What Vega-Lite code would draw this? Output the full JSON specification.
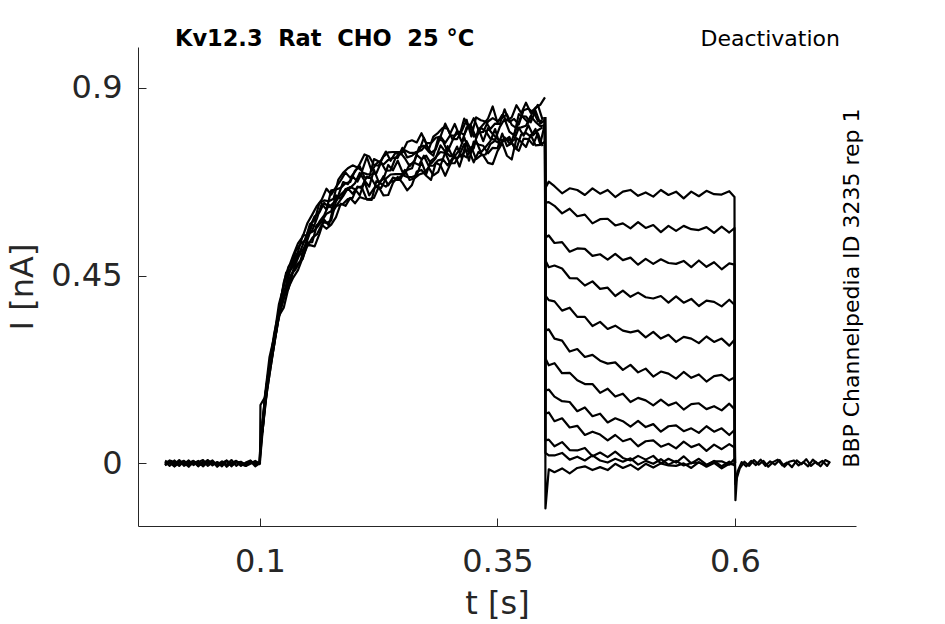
{
  "$schema": "https://vega.github.io/schema/vega-lite/v6.json",
  "width": 718,
  "height": 479,
  "autosize": {"type": "none"},
  "padding": {"left": 138, "top": 47, "right": 89, "bottom": 98},
  "background": "white",
  "config": {
    "view": {"stroke": null},
    "font": "DejaVu Sans",
    "axis": {
      "labelFont": "DejaVu Sans",
      "titleFont": "DejaVu Sans",
      "labelColor": "#262626",
      "titleColor": "#262626",
      "domainColor": "#262626",
      "tickColor": "#262626",
      "domainWidth": 1,
      "tickWidth": 1,
      "grid": false,
      "labelFontSize": 32,
      "titleFontSize": 32,
      "titleFontWeight": "normal",
      "format": ".2~f"
    }
  },
  "layer": [
    {
      "data": {
        "values": [
          {"s":"a1","t":0,"i":0.004},{"s":"a1","t":0.005,"i":-0.006},{"s":"a1","t":0.01,"i":0.007},{"s":"a1","t":0.015,"i":-0.003},{"s":"a1","t":0.02,"i":0.002},
          {"s":"a1","t":0.025,"i":-0.008},{"s":"a1","t":0.03,"i":0.005},{"s":"a1","t":0.035,"i":0.0},{"s":"a1","t":0.04,"i":-0.005},{"s":"a1","t":0.045,"i":0.008},
          {"s":"a1","t":0.05,"i":-0.002},{"s":"a1","t":0.055,"i":0.003},{"s":"a1","t":0.06,"i":-0.007},{"s":"a1","t":0.065,"i":0.006},{"s":"a1","t":0.07,"i":-0.001},
          {"s":"a1","t":0.075,"i":0.004},{"s":"a1","t":0.08,"i":-0.006},{"s":"a1","t":0.085,"i":0.002},{"s":"a1","t":0.09,"i":0.007},{"s":"a1","t":0.095,"i":-0.004},
          {"s":"a1","t":0.0995,"i":0.001},
          {"s":"a1","t":0.1,"i":0.006},{"s":"a1","t":0.105,"i":0.135},{"s":"a1","t":0.11,"i":0.212},{"s":"a1","t":0.115,"i":0.285},{"s":"a1","t":0.12,"i":0.354},
          {"s":"a1","t":0.125,"i":0.373},{"s":"a1","t":0.13,"i":0.421},{"s":"a1","t":0.135,"i":0.445},{"s":"a1","t":0.14,"i":0.463},{"s":"a1","t":0.145,"i":0.493},
          {"s":"a1","t":0.15,"i":0.522},{"s":"a1","t":0.155,"i":0.54},{"s":"a1","t":0.16,"i":0.549},{"s":"a1","t":0.165,"i":0.572},{"s":"a1","t":0.17,"i":0.562},
          {"s":"a1","t":0.175,"i":0.572},{"s":"a1","t":0.18,"i":0.59},{"s":"a1","t":0.185,"i":0.622},{"s":"a1","t":0.19,"i":0.617},{"s":"a1","t":0.195,"i":0.636},
          {"s":"a1","t":0.2,"i":0.623},{"s":"a1","t":0.205,"i":0.638},{"s":"a1","t":0.21,"i":0.634},{"s":"a1","t":0.215,"i":0.633},{"s":"a1","t":0.22,"i":0.636},
          {"s":"a1","t":0.225,"i":0.662},{"s":"a1","t":0.23,"i":0.642},{"s":"a1","t":0.235,"i":0.643},{"s":"a1","t":0.24,"i":0.672},{"s":"a1","t":0.245,"i":0.686},
          {"s":"a1","t":0.25,"i":0.672},{"s":"a1","t":0.255,"i":0.654},{"s":"a1","t":0.26,"i":0.667},{"s":"a1","t":0.265,"i":0.699},{"s":"a1","t":0.27,"i":0.703},
          {"s":"a1","t":0.275,"i":0.689},{"s":"a1","t":0.28,"i":0.679},{"s":"a1","t":0.285,"i":0.72},{"s":"a1","t":0.29,"i":0.714},{"s":"a1","t":0.295,"i":0.689},
          {"s":"a1","t":0.3,"i":0.715},{"s":"a1","t":0.305,"i":0.739},{"s":"a1","t":0.31,"i":0.711},{"s":"a1","t":0.315,"i":0.747},{"s":"a1","t":0.32,"i":0.75},
          {"s":"a1","t":0.325,"i":0.721},{"s":"a1","t":0.33,"i":0.746},{"s":"a1","t":0.335,"i":0.738},{"s":"a1","t":0.34,"i":0.72},{"s":"a1","t":0.345,"i":0.717},
          {"s":"a1","t":0.35,"i":0.748},{"s":"a1","t":0.355,"i":0.767},{"s":"a1","t":0.36,"i":0.737},{"s":"a1","t":0.365,"i":0.728},{"s":"a1","t":0.37,"i":0.779},
          {"s":"a1","t":0.375,"i":0.77},{"s":"a1","t":0.38,"i":0.758},{"s":"a1","t":0.385,"i":0.787},{"s":"a1","t":0.39,"i":0.762},{"s":"a1","t":0.395,"i":0.763},
          {"s":"a1","t":0.4,"i":0.771},

          {"s":"a2","t":0,"i":-0.005},{"s":"a2","t":0.005,"i":0.003},{"s":"a2","t":0.01,"i":-0.002},{"s":"a2","t":0.015,"i":0.008},{"s":"a2","t":0.02,"i":-0.006},
          {"s":"a2","t":0.025,"i":0.001},{"s":"a2","t":0.03,"i":0.006},{"s":"a2","t":0.035,"i":-0.007},{"s":"a2","t":0.04,"i":0.004},{"s":"a2","t":0.045,"i":-0.001},
          {"s":"a2","t":0.05,"i":0.007},{"s":"a2","t":0.055,"i":-0.005},{"s":"a2","t":0.06,"i":0.002},{"s":"a2","t":0.065,"i":-0.003},{"s":"a2","t":0.07,"i":0.008},
          {"s":"a2","t":0.075,"i":-0.006},{"s":"a2","t":0.08,"i":0.003},{"s":"a2","t":0.085,"i":-0.002},{"s":"a2","t":0.09,"i":0.005},{"s":"a2","t":0.095,"i":-0.007},
          {"s":"a2","t":0.0995,"i":0.0},
          {"s":"a2","t":0.1,"i":0.014},{"s":"a2","t":0.105,"i":0.14},{"s":"a2","t":0.11,"i":0.223},{"s":"a2","t":0.115,"i":0.284},{"s":"a2","t":0.12,"i":0.359},
          {"s":"a2","t":0.125,"i":0.405},{"s":"a2","t":0.13,"i":0.418},{"s":"a2","t":0.135,"i":0.461},{"s":"a2","t":0.14,"i":0.479},{"s":"a2","t":0.145,"i":0.49},
          {"s":"a2","t":0.15,"i":0.529},{"s":"a2","t":0.155,"i":0.53},{"s":"a2","t":0.16,"i":0.571},{"s":"a2","t":0.165,"i":0.578},{"s":"a2","t":0.17,"i":0.576},
          {"s":"a2","t":0.175,"i":0.582},{"s":"a2","t":0.18,"i":0.628},{"s":"a2","t":0.185,"i":0.644},{"s":"a2","t":0.19,"i":0.655},{"s":"a2","t":0.195,"i":0.662},
          {"s":"a2","t":0.2,"i":0.657},{"s":"a2","t":0.205,"i":0.642},{"s":"a2","t":0.21,"i":0.675},{"s":"a2","t":0.215,"i":0.642},{"s":"a2","t":0.22,"i":0.659},
          {"s":"a2","t":0.225,"i":0.667},{"s":"a2","t":0.23,"i":0.688},{"s":"a2","t":0.235,"i":0.666},{"s":"a2","t":0.24,"i":0.685},{"s":"a2","t":0.245,"i":0.681},
          {"s":"a2","t":0.25,"i":0.691},{"s":"a2","t":0.255,"i":0.686},{"s":"a2","t":0.26,"i":0.686},{"s":"a2","t":0.265,"i":0.69},{"s":"a2","t":0.27,"i":0.722},
          {"s":"a2","t":0.275,"i":0.693},{"s":"a2","t":0.28,"i":0.725},{"s":"a2","t":0.285,"i":0.734},{"s":"a2","t":0.29,"i":0.746},{"s":"a2","t":0.295,"i":0.744},
          {"s":"a2","t":0.3,"i":0.719},{"s":"a2","t":0.305,"i":0.719},{"s":"a2","t":0.31,"i":0.739},{"s":"a2","t":0.315,"i":0.765},{"s":"a2","t":0.32,"i":0.725},
          {"s":"a2","t":0.325,"i":0.771},{"s":"a2","t":0.33,"i":0.764},{"s":"a2","t":0.335,"i":0.761},{"s":"a2","t":0.34,"i":0.743},{"s":"a2","t":0.345,"i":0.756},
          {"s":"a2","t":0.35,"i":0.755},{"s":"a2","t":0.355,"i":0.79},{"s":"a2","t":0.36,"i":0.76},{"s":"a2","t":0.365,"i":0.767},{"s":"a2","t":0.37,"i":0.754},
          {"s":"a2","t":0.375,"i":0.788},{"s":"a2","t":0.38,"i":0.792},{"s":"a2","t":0.385,"i":0.783},{"s":"a2","t":0.39,"i":0.801},{"s":"a2","t":0.395,"i":0.765},
          {"s":"a2","t":0.4,"i":0.815},

          {"s":"a3","t":0,"i":0.006},{"s":"a3","t":0.005,"i":0.001},{"s":"a3","t":0.01,"i":-0.007},{"s":"a3","t":0.015,"i":0.004},{"s":"a3","t":0.02,"i":-0.002},
          {"s":"a3","t":0.025,"i":0.007},{"s":"a3","t":0.03,"i":-0.004},{"s":"a3","t":0.035,"i":0.003},{"s":"a3","t":0.04,"i":0.008},{"s":"a3","t":0.045,"i":-0.006},
          {"s":"a3","t":0.05,"i":0.002},{"s":"a3","t":0.055,"i":-0.003},{"s":"a3","t":0.06,"i":0.005},{"s":"a3","t":0.065,"i":-0.008},{"s":"a3","t":0.07,"i":0.001},
          {"s":"a3","t":0.075,"i":0.006},{"s":"a3","t":0.08,"i":-0.002},{"s":"a3","t":0.085,"i":-0.006},{"s":"a3","t":0.09,"i":0.004},{"s":"a3","t":0.095,"i":0.002},
          {"s":"a3","t":0.0995,"i":-0.002},
          {"s":"a3","t":0.1,"i":0.02},{"s":"a3","t":0.105,"i":0.156},{"s":"a3","t":0.11,"i":0.231},{"s":"a3","t":0.115,"i":0.297},{"s":"a3","t":0.12,"i":0.363},
          {"s":"a3","t":0.125,"i":0.394},{"s":"a3","t":0.13,"i":0.457},{"s":"a3","t":0.135,"i":0.472},{"s":"a3","t":0.14,"i":0.497},{"s":"a3","t":0.145,"i":0.504},
          {"s":"a3","t":0.15,"i":0.54},{"s":"a3","t":0.155,"i":0.572},{"s":"a3","t":0.16,"i":0.565},{"s":"a3","t":0.165,"i":0.58},{"s":"a3","t":0.17,"i":0.598},
          {"s":"a3","t":0.175,"i":0.604},{"s":"a3","t":0.18,"i":0.642},{"s":"a3","t":0.185,"i":0.634},{"s":"a3","t":0.19,"i":0.657},{"s":"a3","t":0.195,"i":0.66},
          {"s":"a3","t":0.2,"i":0.671},{"s":"a3","t":0.205,"i":0.696},{"s":"a3","t":0.21,"i":0.678},{"s":"a3","t":0.215,"i":0.663},{"s":"a3","t":0.22,"i":0.703},
          {"s":"a3","t":0.225,"i":0.674},{"s":"a3","t":0.23,"i":0.681},{"s":"a3","t":0.235,"i":0.715},{"s":"a3","t":0.24,"i":0.702},{"s":"a3","t":0.245,"i":0.725},
          {"s":"a3","t":0.25,"i":0.698},{"s":"a3","t":0.255,"i":0.703},{"s":"a3","t":0.26,"i":0.707},{"s":"a3","t":0.265,"i":0.739},{"s":"a3","t":0.27,"i":0.729},
          {"s":"a3","t":0.275,"i":0.737},{"s":"a3","t":0.28,"i":0.718},{"s":"a3","t":0.285,"i":0.731},{"s":"a3","t":0.29,"i":0.762},{"s":"a3","t":0.295,"i":0.747},
          {"s":"a3","t":0.3,"i":0.736},{"s":"a3","t":0.305,"i":0.736},{"s":"a3","t":0.31,"i":0.751},{"s":"a3","t":0.315,"i":0.781},{"s":"a3","t":0.32,"i":0.747},
          {"s":"a3","t":0.325,"i":0.755},{"s":"a3","t":0.33,"i":0.802},{"s":"a3","t":0.335,"i":0.772},{"s":"a3","t":0.34,"i":0.803},{"s":"a3","t":0.345,"i":0.789},
          {"s":"a3","t":0.35,"i":0.777},{"s":"a3","t":0.355,"i":0.774},{"s":"a3","t":0.36,"i":0.776},{"s":"a3","t":0.365,"i":0.773},{"s":"a3","t":0.37,"i":0.803},
          {"s":"a3","t":0.375,"i":0.805},{"s":"a3","t":0.38,"i":0.809},{"s":"a3","t":0.385,"i":0.832},{"s":"a3","t":0.39,"i":0.818},{"s":"a3","t":0.395,"i":0.808},
          {"s":"a3","t":0.4,"i":0.81},

          {"s":"a4","t":0,"i":-0.002},{"s":"a4","t":0.005,"i":0.007},{"s":"a4","t":0.01,"i":0.003},{"s":"a4","t":0.015,"i":-0.006},{"s":"a4","t":0.02,"i":0.005},
          {"s":"a4","t":0.025,"i":-0.004},{"s":"a4","t":0.03,"i":-0.001},{"s":"a4","t":0.035,"i":0.006},{"s":"a4","t":0.04,"i":-0.007},{"s":"a4","t":0.045,"i":0.003},
          {"s":"a4","t":0.05,"i":0.005},{"s":"a4","t":0.055,"i":-0.008},{"s":"a4","t":0.06,"i":0.001},{"s":"a4","t":0.065,"i":0.007},{"s":"a4","t":0.07,"i":-0.005},
          {"s":"a4","t":0.075,"i":0.002},{"s":"a4","t":0.08,"i":0.004},{"s":"a4","t":0.085,"i":-0.006},{"s":"a4","t":0.09,"i":-0.001},{"s":"a4","t":0.095,"i":0.006},
          {"s":"a4","t":0.0995,"i":0.0},
          {"s":"a4","t":0.1,"i":0.026},{"s":"a4","t":0.105,"i":0.152},{"s":"a4","t":0.11,"i":0.234},{"s":"a4","t":0.115,"i":0.312},{"s":"a4","t":0.12,"i":0.365},
          {"s":"a4","t":0.125,"i":0.433},{"s":"a4","t":0.13,"i":0.471},{"s":"a4","t":0.135,"i":0.486},{"s":"a4","t":0.14,"i":0.507},{"s":"a4","t":0.145,"i":0.546},
          {"s":"a4","t":0.15,"i":0.547},{"s":"a4","t":0.155,"i":0.558},{"s":"a4","t":0.16,"i":0.587},{"s":"a4","t":0.165,"i":0.622},{"s":"a4","t":0.17,"i":0.608},
          {"s":"a4","t":0.175,"i":0.654},{"s":"a4","t":0.18,"i":0.656},{"s":"a4","t":0.185,"i":0.66},{"s":"a4","t":0.19,"i":0.671},{"s":"a4","t":0.195,"i":0.674},
          {"s":"a4","t":0.2,"i":0.701},{"s":"a4","t":0.205,"i":0.712},{"s":"a4","t":0.21,"i":0.685},{"s":"a4","t":0.215,"i":0.684},{"s":"a4","t":0.22,"i":0.729},
          {"s":"a4","t":0.225,"i":0.723},{"s":"a4","t":0.23,"i":0.716},{"s":"a4","t":0.235,"i":0.727},{"s":"a4","t":0.24,"i":0.732},{"s":"a4","t":0.245,"i":0.732},
          {"s":"a4","t":0.25,"i":0.756},{"s":"a4","t":0.255,"i":0.733},{"s":"a4","t":0.26,"i":0.737},{"s":"a4","t":0.265,"i":0.746},{"s":"a4","t":0.27,"i":0.75},
          {"s":"a4","t":0.275,"i":0.763},{"s":"a4","t":0.28,"i":0.744},{"s":"a4","t":0.285,"i":0.752},{"s":"a4","t":0.29,"i":0.783},{"s":"a4","t":0.295,"i":0.768},
          {"s":"a4","t":0.3,"i":0.785},{"s":"a4","t":0.305,"i":0.785},{"s":"a4","t":0.31,"i":0.794},{"s":"a4","t":0.315,"i":0.787},{"s":"a4","t":0.32,"i":0.812},
          {"s":"a4","t":0.325,"i":0.783},{"s":"a4","t":0.33,"i":0.792},{"s":"a4","t":0.335,"i":0.794},{"s":"a4","t":0.34,"i":0.819},{"s":"a4","t":0.345,"i":0.827},
          {"s":"a4","t":0.35,"i":0.82},{"s":"a4","t":0.355,"i":0.828},{"s":"a4","t":0.36,"i":0.836},{"s":"a4","t":0.365,"i":0.811},{"s":"a4","t":0.37,"i":0.803},
          {"s":"a4","t":0.375,"i":0.832},{"s":"a4","t":0.38,"i":0.831},{"s":"a4","t":0.385,"i":0.817},{"s":"a4","t":0.39,"i":0.845},{"s":"a4","t":0.395,"i":0.814},
          {"s":"a4","t":0.4,"i":0.822},

          {"s":"a5","t":0,"i":-0.004},{"s":"a5","t":0.005,"i":0.005},{"s":"a5","t":0.01,"i":-0.007},{"s":"a5","t":0.015,"i":0.002},{"s":"a5","t":0.02,"i":0.006},
          {"s":"a5","t":0.025,"i":-0.003},{"s":"a5","t":0.03,"i":0.004},{"s":"a5","t":0.035,"i":-0.006},{"s":"a5","t":0.04,"i":0.001},{"s":"a5","t":0.045,"i":0.007},
          {"s":"a5","t":0.05,"i":-0.005},{"s":"a5","t":0.055,"i":0.003},{"s":"a5","t":0.06,"i":-0.002},{"s":"a5","t":0.065,"i":0.006},{"s":"a5","t":0.07,"i":-0.007},
          {"s":"a5","t":0.075,"i":0.004},{"s":"a5","t":0.08,"i":0.0},{"s":"a5","t":0.085,"i":-0.004},{"s":"a5","t":0.09,"i":0.005},{"s":"a5","t":0.095,"i":-0.002},
          {"s":"a5","t":0.0995,"i":0.0},
          {"s":"a5","t":0.1,"i":0.0},{"s":"a5","t":0.1005,"i":0.14},{"s":"a5","t":0.105,"i":0.158},{"s":"a5","t":0.11,"i":0.254},{"s":"a5","t":0.115,"i":0.304},
          {"s":"a5","t":0.12,"i":0.382},{"s":"a5","t":0.125,"i":0.424},{"s":"a5","t":0.13,"i":0.468},{"s":"a5","t":0.135,"i":0.499},{"s":"a5","t":0.14,"i":0.527},
          {"s":"a5","t":0.145,"i":0.543},{"s":"a5","t":0.15,"i":0.576},{"s":"a5","t":0.155,"i":0.596},{"s":"a5","t":0.16,"i":0.617},{"s":"a5","t":0.165,"i":0.632},
          {"s":"a5","t":0.17,"i":0.658},{"s":"a5","t":0.175,"i":0.644},{"s":"a5","t":0.18,"i":0.662},{"s":"a5","t":0.185,"i":0.678},{"s":"a5","t":0.19,"i":0.697},
          {"s":"a5","t":0.195,"i":0.684},{"s":"a5","t":0.2,"i":0.699},{"s":"a5","t":0.205,"i":0.717},{"s":"a5","t":0.21,"i":0.74},{"s":"a5","t":0.215,"i":0.735},
          {"s":"a5","t":0.22,"i":0.715},{"s":"a5","t":0.225,"i":0.713},{"s":"a5","t":0.23,"i":0.735},{"s":"a5","t":0.235,"i":0.745},{"s":"a5","t":0.24,"i":0.746},
          {"s":"a5","t":0.245,"i":0.746},{"s":"a5","t":0.25,"i":0.746},{"s":"a5","t":0.255,"i":0.77},{"s":"a5","t":0.26,"i":0.774},{"s":"a5","t":0.265,"i":0.769},
          {"s":"a5","t":0.27,"i":0.791},{"s":"a5","t":0.275,"i":0.767},{"s":"a5","t":0.28,"i":0.767},{"s":"a5","t":0.285,"i":0.78},{"s":"a5","t":0.29,"i":0.783},
          {"s":"a5","t":0.295,"i":0.814},{"s":"a5","t":0.3,"i":0.789},{"s":"a5","t":0.305,"i":0.813},{"s":"a5","t":0.31,"i":0.785},{"s":"a5","t":0.315,"i":0.826},
          {"s":"a5","t":0.32,"i":0.803},{"s":"a5","t":0.325,"i":0.827},{"s":"a5","t":0.33,"i":0.799},{"s":"a5","t":0.335,"i":0.812},{"s":"a5","t":0.34,"i":0.826},
          {"s":"a5","t":0.345,"i":0.855},{"s":"a5","t":0.35,"i":0.816},{"s":"a5","t":0.355,"i":0.835},{"s":"a5","t":0.36,"i":0.821},{"s":"a5","t":0.365,"i":0.829},
          {"s":"a5","t":0.37,"i":0.858},{"s":"a5","t":0.375,"i":0.839},{"s":"a5","t":0.38,"i":0.864},{"s":"a5","t":0.385,"i":0.84},{"s":"a5","t":0.39,"i":0.852},
          {"s":"a5","t":0.395,"i":0.859},{"s":"a5","t":0.4,"i":0.877},

          {"s":"b1","t":0.1025,"i":0.074},{"s":"b1","t":0.1075,"i":0.176},{"s":"b1","t":0.1125,"i":0.25},{"s":"b1","t":0.1175,"i":0.326},{"s":"b1","t":0.1225,"i":0.372},
          {"s":"b1","t":0.1275,"i":0.417},{"s":"b1","t":0.1325,"i":0.451},{"s":"b1","t":0.1375,"i":0.465},{"s":"b1","t":0.1425,"i":0.485},{"s":"b1","t":0.1475,"i":0.522},
          {"s":"b1","t":0.1525,"i":0.523},{"s":"b1","t":0.1575,"i":0.52},{"s":"b1","t":0.1625,"i":0.549},{"s":"b1","t":0.1675,"i":0.584},{"s":"b1","t":0.1725,"i":0.57},
          {"s":"b1","t":0.1775,"i":0.616},{"s":"b1","t":0.1825,"i":0.618},{"s":"b1","t":0.1875,"i":0.622},{"s":"b1","t":0.1925,"i":0.633},{"s":"b1","t":0.1975,"i":0.636},
          {"s":"b1","t":0.2025,"i":0.663},{"s":"b1","t":0.2075,"i":0.659},{"s":"b1","t":0.2125,"i":0.632},{"s":"b1","t":0.2175,"i":0.631},{"s":"b1","t":0.2225,"i":0.676},
          {"s":"b1","t":0.2275,"i":0.67},{"s":"b1","t":0.2325,"i":0.663},{"s":"b1","t":0.2375,"i":0.674},{"s":"b1","t":0.2425,"i":0.679},{"s":"b1","t":0.2475,"i":0.679},
          {"s":"b1","t":0.2525,"i":0.703},{"s":"b1","t":0.2575,"i":0.679},{"s":"b1","t":0.2625,"i":0.683},{"s":"b1","t":0.2675,"i":0.692},{"s":"b1","t":0.2725,"i":0.696},
          {"s":"b1","t":0.2775,"i":0.709},{"s":"b1","t":0.2825,"i":0.69},{"s":"b1","t":0.2875,"i":0.698},{"s":"b1","t":0.2925,"i":0.729},{"s":"b1","t":0.2975,"i":0.714},
          {"s":"b1","t":0.3025,"i":0.731},{"s":"b1","t":0.3075,"i":0.731},{"s":"b1","t":0.3125,"i":0.74},{"s":"b1","t":0.3175,"i":0.733},{"s":"b1","t":0.3225,"i":0.758},
          {"s":"b1","t":0.3275,"i":0.729},{"s":"b1","t":0.3325,"i":0.738},{"s":"b1","t":0.3375,"i":0.74},{"s":"b1","t":0.3425,"i":0.765},{"s":"b1","t":0.3475,"i":0.773},
          {"s":"b1","t":0.3525,"i":0.766},{"s":"b1","t":0.3575,"i":0.774},{"s":"b1","t":0.3625,"i":0.782},{"s":"b1","t":0.3675,"i":0.757},{"s":"b1","t":0.3725,"i":0.749},
          {"s":"b1","t":0.3775,"i":0.778},{"s":"b1","t":0.3825,"i":0.777},{"s":"b1","t":0.3875,"i":0.763},{"s":"b1","t":0.3925,"i":0.791},{"s":"b1","t":0.3975,"i":0.76},

          {"s":"b2","t":0.1025,"i":0.075},{"s":"b2","t":0.1075,"i":0.182},{"s":"b2","t":0.1125,"i":0.27},{"s":"b2","t":0.1175,"i":0.318},{"s":"b2","t":0.1225,"i":0.389},
          {"s":"b2","t":0.1275,"i":0.408},{"s":"b2","t":0.1325,"i":0.448},{"s":"b2","t":0.1375,"i":0.478},{"s":"b2","t":0.1425,"i":0.505},{"s":"b2","t":0.1475,"i":0.519},
          {"s":"b2","t":0.1525,"i":0.552},{"s":"b2","t":0.1575,"i":0.558},{"s":"b2","t":0.1625,"i":0.579},{"s":"b2","t":0.1675,"i":0.594},{"s":"b2","t":0.1725,"i":0.62},
          {"s":"b2","t":0.1775,"i":0.606},{"s":"b2","t":0.1825,"i":0.624},{"s":"b2","t":0.1875,"i":0.64},{"s":"b2","t":0.1925,"i":0.659},{"s":"b2","t":0.1975,"i":0.646},
          {"s":"b2","t":0.2025,"i":0.661},{"s":"b2","t":0.2075,"i":0.664},{"s":"b2","t":0.2125,"i":0.687},{"s":"b2","t":0.2175,"i":0.682},{"s":"b2","t":0.2225,"i":0.662},
          {"s":"b2","t":0.2275,"i":0.66},{"s":"b2","t":0.2325,"i":0.682},{"s":"b2","t":0.2375,"i":0.692},{"s":"b2","t":0.2425,"i":0.693},{"s":"b2","t":0.2475,"i":0.693},
          {"s":"b2","t":0.2525,"i":0.693},{"s":"b2","t":0.2575,"i":0.716},{"s":"b2","t":0.2625,"i":0.72},{"s":"b2","t":0.2675,"i":0.715},{"s":"b2","t":0.2725,"i":0.737},
          {"s":"b2","t":0.2775,"i":0.713},{"s":"b2","t":0.2825,"i":0.713},{"s":"b2","t":0.2875,"i":0.726},{"s":"b2","t":0.2925,"i":0.729},{"s":"b2","t":0.2975,"i":0.76},
          {"s":"b2","t":0.3025,"i":0.735},{"s":"b2","t":0.3075,"i":0.759},{"s":"b2","t":0.3125,"i":0.731},{"s":"b2","t":0.3175,"i":0.772},{"s":"b2","t":0.3225,"i":0.749},
          {"s":"b2","t":0.3275,"i":0.773},{"s":"b2","t":0.3325,"i":0.745},{"s":"b2","t":0.3375,"i":0.758},{"s":"b2","t":0.3425,"i":0.772},{"s":"b2","t":0.3475,"i":0.801},
          {"s":"b2","t":0.3525,"i":0.762},{"s":"b2","t":0.3575,"i":0.781},{"s":"b2","t":0.3625,"i":0.767},{"s":"b2","t":0.3675,"i":0.775},{"s":"b2","t":0.3725,"i":0.804},
          {"s":"b2","t":0.3775,"i":0.785},{"s":"b2","t":0.3825,"i":0.81},{"s":"b2","t":0.3875,"i":0.786},{"s":"b2","t":0.3925,"i":0.798},{"s":"b2","t":0.3975,"i":0.805},

          {"s":"b3","t":0.1025,"i":0.088},{"s":"b3","t":0.1075,"i":0.193},{"s":"b3","t":0.1125,"i":0.262},{"s":"b3","t":0.1175,"i":0.333},{"s":"b3","t":0.1225,"i":0.395},
          {"s":"b3","t":0.1275,"i":0.425},{"s":"b3","t":0.1325,"i":0.469},{"s":"b3","t":0.1375,"i":0.492},{"s":"b3","t":0.1425,"i":0.509},{"s":"b3","t":0.1475,"i":0.537},
          {"s":"b3","t":0.1525,"i":0.566},{"s":"b3","t":0.1575,"i":0.592},{"s":"b3","t":0.1625,"i":0.601},{"s":"b3","t":0.1675,"i":0.624},{"s":"b3","t":0.1725,"i":0.614},
          {"s":"b3","t":0.1775,"i":0.624},{"s":"b3","t":0.1825,"i":0.642},{"s":"b3","t":0.1875,"i":0.674},{"s":"b3","t":0.1925,"i":0.669},{"s":"b3","t":0.1975,"i":0.688},
          {"s":"b3","t":0.2025,"i":0.675},{"s":"b3","t":0.2075,"i":0.697},{"s":"b3","t":0.2125,"i":0.693},{"s":"b3","t":0.2175,"i":0.692},{"s":"b3","t":0.2225,"i":0.695},
          {"s":"b3","t":0.2275,"i":0.721},{"s":"b3","t":0.2325,"i":0.701},{"s":"b3","t":0.2375,"i":0.702},{"s":"b3","t":0.2425,"i":0.731},{"s":"b3","t":0.2475,"i":0.745},
          {"s":"b3","t":0.2525,"i":0.731},{"s":"b3","t":0.2575,"i":0.712},{"s":"b3","t":0.2625,"i":0.725},{"s":"b3","t":0.2675,"i":0.757},{"s":"b3","t":0.2725,"i":0.761},
          {"s":"b3","t":0.2775,"i":0.747},{"s":"b3","t":0.2825,"i":0.737},{"s":"b3","t":0.2875,"i":0.778},{"s":"b3","t":0.2925,"i":0.772},{"s":"b3","t":0.2975,"i":0.747},
          {"s":"b3","t":0.3025,"i":0.773},{"s":"b3","t":0.3075,"i":0.797},{"s":"b3","t":0.3125,"i":0.769},{"s":"b3","t":0.3175,"i":0.805},{"s":"b3","t":0.3225,"i":0.808},
          {"s":"b3","t":0.3275,"i":0.779},{"s":"b3","t":0.3325,"i":0.804},{"s":"b3","t":0.3375,"i":0.796},{"s":"b3","t":0.3425,"i":0.778},{"s":"b3","t":0.3475,"i":0.775},
          {"s":"b3","t":0.3525,"i":0.806},{"s":"b3","t":0.3575,"i":0.825},{"s":"b3","t":0.3625,"i":0.795},{"s":"b3","t":0.3675,"i":0.786},{"s":"b3","t":0.3725,"i":0.837},
          {"s":"b3","t":0.3775,"i":0.828},{"s":"b3","t":0.3825,"i":0.816},{"s":"b3","t":0.3875,"i":0.845},{"s":"b3","t":0.3925,"i":0.82},{"s":"b3","t":0.3975,"i":0.821},

          {"s":"b4","t":0.1025,"i":0.096},{"s":"b4","t":0.1075,"i":0.198},{"s":"b4","t":0.1125,"i":0.273},{"s":"b4","t":0.1175,"i":0.332},{"s":"b4","t":0.1225,"i":0.4},
          {"s":"b4","t":0.1275,"i":0.457},{"s":"b4","t":0.1325,"i":0.466},{"s":"b4","t":0.1375,"i":0.508},{"s":"b4","t":0.1425,"i":0.525},{"s":"b4","t":0.1475,"i":0.534},
          {"s":"b4","t":0.1525,"i":0.573},{"s":"b4","t":0.1575,"i":0.582},{"s":"b4","t":0.1625,"i":0.623},{"s":"b4","t":0.1675,"i":0.63},{"s":"b4","t":0.1725,"i":0.628},
          {"s":"b4","t":0.1775,"i":0.634},{"s":"b4","t":0.1825,"i":0.68},{"s":"b4","t":0.1875,"i":0.696},{"s":"b4","t":0.1925,"i":0.707},{"s":"b4","t":0.1975,"i":0.714},
          {"s":"b4","t":0.2025,"i":0.709},{"s":"b4","t":0.2075,"i":0.701},{"s":"b4","t":0.2125,"i":0.734},{"s":"b4","t":0.2175,"i":0.701},{"s":"b4","t":0.2225,"i":0.718},
          {"s":"b4","t":0.2275,"i":0.726},{"s":"b4","t":0.2325,"i":0.747},{"s":"b4","t":0.2375,"i":0.725},{"s":"b4","t":0.2425,"i":0.744},{"s":"b4","t":0.2475,"i":0.74},
          {"s":"b4","t":0.2525,"i":0.75},{"s":"b4","t":0.2575,"i":0.744},{"s":"b4","t":0.2625,"i":0.744},{"s":"b4","t":0.2675,"i":0.748},{"s":"b4","t":0.2725,"i":0.78},
          {"s":"b4","t":0.2775,"i":0.751},{"s":"b4","t":0.2825,"i":0.783},{"s":"b4","t":0.2875,"i":0.792},{"s":"b4","t":0.2925,"i":0.804},{"s":"b4","t":0.2975,"i":0.802},
          {"s":"b4","t":0.3025,"i":0.777},{"s":"b4","t":0.3075,"i":0.777},{"s":"b4","t":0.3125,"i":0.797},{"s":"b4","t":0.3175,"i":0.823},{"s":"b4","t":0.3225,"i":0.783},
          {"s":"b4","t":0.3275,"i":0.829},{"s":"b4","t":0.3325,"i":0.822},{"s":"b4","t":0.3375,"i":0.819},{"s":"b4","t":0.3425,"i":0.801},{"s":"b4","t":0.3475,"i":0.814},
          {"s":"b4","t":0.3525,"i":0.813},{"s":"b4","t":0.3575,"i":0.848},{"s":"b4","t":0.3625,"i":0.818},{"s":"b4","t":0.3675,"i":0.825},{"s":"b4","t":0.3725,"i":0.812},
          {"s":"b4","t":0.3775,"i":0.846},{"s":"b4","t":0.3825,"i":0.85},{"s":"b4","t":0.3875,"i":0.841},{"s":"b4","t":0.3925,"i":0.859},{"s":"b4","t":0.3975,"i":0.823},

          {"s":"T1","t":0.4,"i":0.83},{"s":"T1","t":0.4005,"i":0.66},{"s":"T1","t":0.404,"i":0.675},{"s":"T1","t":0.41,"i":0.664},{"s":"T1","t":0.418,"i":0.647},
          {"s":"T1","t":0.426,"i":0.659},{"s":"T1","t":0.434,"i":0.655},{"s":"T1","t":0.442,"i":0.643},{"s":"T1","t":0.45,"i":0.659},{"s":"T1","t":0.458,"i":0.646},
          {"s":"T1","t":0.466,"i":0.655},{"s":"T1","t":0.474,"i":0.638},{"s":"T1","t":0.482,"i":0.651},{"s":"T1","t":0.49,"i":0.655},{"s":"T1","t":0.498,"i":0.641},
          {"s":"T1","t":0.506,"i":0.649},{"s":"T1","t":0.514,"i":0.639},{"s":"T1","t":0.522,"i":0.655},{"s":"T1","t":0.53,"i":0.643},{"s":"T1","t":0.538,"i":0.651},
          {"s":"T1","t":0.546,"i":0.635},{"s":"T1","t":0.554,"i":0.651},{"s":"T1","t":0.562,"i":0.64},{"s":"T1","t":0.57,"i":0.653},{"s":"T1","t":0.578,"i":0.645},
          {"s":"T1","t":0.586,"i":0.644},{"s":"T1","t":0.594,"i":0.652},{"s":"T1","t":0.5995,"i":0.638},{"s":"T1","t":0.6,"i":0.0},

          {"s":"T2","t":0.4,"i":0.83},{"s":"T2","t":0.4005,"i":0.625},{"s":"T2","t":0.404,"i":0.626},{"s":"T2","t":0.41,"i":0.617},{"s":"T2","t":0.418,"i":0.599},
          {"s":"T2","t":0.426,"i":0.61},{"s":"T2","t":0.434,"i":0.592},{"s":"T2","t":0.442,"i":0.596},{"s":"T2","t":0.45,"i":0.575},{"s":"T2","t":0.458,"i":0.585},
          {"s":"T2","t":0.466,"i":0.586},{"s":"T2","t":0.474,"i":0.57},{"s":"T2","t":0.482,"i":0.575},{"s":"T2","t":0.49,"i":0.563},{"s":"T2","t":0.498,"i":0.578},
          {"s":"T2","t":0.506,"i":0.564},{"s":"T2","t":0.514,"i":0.571},{"s":"T2","t":0.522,"i":0.554},{"s":"T2","t":0.53,"i":0.569},{"s":"T2","t":0.538,"i":0.557},
          {"s":"T2","t":0.546,"i":0.569},{"s":"T2","t":0.554,"i":0.561},{"s":"T2","t":0.562,"i":0.559},{"s":"T2","t":0.57,"i":0.566},{"s":"T2","t":0.578,"i":0.552},
          {"s":"T2","t":0.586,"i":0.567},{"s":"T2","t":0.594,"i":0.553},{"s":"T2","t":0.5995,"i":0.564},{"s":"T2","t":0.6,"i":0.0},

          {"s":"T3","t":0.4,"i":0.83},{"s":"T3","t":0.4005,"i":0.541},{"s":"T3","t":0.404,"i":0.546},{"s":"T3","t":0.41,"i":0.528},{"s":"T3","t":0.418,"i":0.53},
          {"s":"T3","t":0.426,"i":0.507},{"s":"T3","t":0.434,"i":0.515},{"s":"T3","t":0.442,"i":0.514},{"s":"T3","t":0.45,"i":0.497},{"s":"T3","t":0.458,"i":0.501},
          {"s":"T3","t":0.466,"i":0.488},{"s":"T3","t":0.474,"i":0.502},{"s":"T3","t":0.482,"i":0.487},{"s":"T3","t":0.49,"i":0.493},{"s":"T3","t":0.498,"i":0.476},
          {"s":"T3","t":0.506,"i":0.49},{"s":"T3","t":0.514,"i":0.478},{"s":"T3","t":0.522,"i":0.489},{"s":"T3","t":0.53,"i":0.48},{"s":"T3","t":0.538,"i":0.478},
          {"s":"T3","t":0.546,"i":0.485},{"s":"T3","t":0.554,"i":0.47},{"s":"T3","t":0.562,"i":0.486},{"s":"T3","t":0.57,"i":0.471},{"s":"T3","t":0.578,"i":0.482},
          {"s":"T3","t":0.586,"i":0.465},{"s":"T3","t":0.594,"i":0.479},{"s":"T3","t":0.5995,"i":0.476},{"s":"T3","t":0.6,"i":0.0},

          {"s":"T4","t":0.4,"i":0.83},{"s":"T4","t":0.4005,"i":0.486},{"s":"T4","t":0.404,"i":0.47},{"s":"T4","t":0.41,"i":0.474},{"s":"T4","t":0.418,"i":0.467},
          {"s":"T4","t":0.426,"i":0.444},{"s":"T4","t":0.434,"i":0.443},{"s":"T4","t":0.442,"i":0.426},{"s":"T4","t":0.45,"i":0.436},{"s":"T4","t":0.458,"i":0.418},
          {"s":"T4","t":0.466,"i":0.421},{"s":"T4","t":0.474,"i":0.401},{"s":"T4","t":0.482,"i":0.414},{"s":"T4","t":0.49,"i":0.399},{"s":"T4","t":0.498,"i":0.409},
          {"s":"T4","t":0.506,"i":0.398},{"s":"T4","t":0.514,"i":0.395},{"s":"T4","t":0.522,"i":0.401},{"s":"T4","t":0.53,"i":0.385},{"s":"T4","t":0.538,"i":0.4},
          {"s":"T4","t":0.546,"i":0.385},{"s":"T4","t":0.554,"i":0.394},{"s":"T4","t":0.562,"i":0.377},{"s":"T4","t":0.57,"i":0.39},{"s":"T4","t":0.578,"i":0.387},
          {"s":"T4","t":0.586,"i":0.376},{"s":"T4","t":0.594,"i":0.392},{"s":"T4","t":0.5995,"i":0.38},{"s":"T4","t":0.6,"i":0.0},

          {"s":"T5","t":0.4,"i":0.83},{"s":"T5","t":0.4005,"i":0.402},{"s":"T5","t":0.404,"i":0.391},{"s":"T5","t":0.41,"i":0.388},{"s":"T5","t":0.418,"i":0.366},
          {"s":"T5","t":0.426,"i":0.373},{"s":"T5","t":0.434,"i":0.351},{"s":"T5","t":0.442,"i":0.351},{"s":"T5","t":0.45,"i":0.329},{"s":"T5","t":0.458,"i":0.339},
          {"s":"T5","t":0.466,"i":0.322},{"s":"T5","t":0.474,"i":0.33},{"s":"T5","t":0.482,"i":0.318},{"s":"T5","t":0.49,"i":0.314},{"s":"T5","t":0.498,"i":0.318},
          {"s":"T5","t":0.506,"i":0.302},{"s":"T5","t":0.514,"i":0.315},{"s":"T5","t":0.522,"i":0.299},{"s":"T5","t":0.53,"i":0.308},{"s":"T5","t":0.538,"i":0.291},
          {"s":"T5","t":0.546,"i":0.303},{"s":"T5","t":0.554,"i":0.299},{"s":"T5","t":0.562,"i":0.288},{"s":"T5","t":0.57,"i":0.304},{"s":"T5","t":0.578,"i":0.291},
          {"s":"T5","t":0.586,"i":0.299},{"s":"T5","t":0.594,"i":0.282},{"s":"T5","t":0.5995,"i":0.296},{"s":"T5","t":0.6,"i":0.0},

          {"s":"T6","t":0.4,"i":0.83},{"s":"T6","t":0.4005,"i":0.318},{"s":"T6","t":0.404,"i":0.321},{"s":"T6","t":0.41,"i":0.299},{"s":"T6","t":0.418,"i":0.294},
          {"s":"T6","t":0.426,"i":0.268},{"s":"T6","t":0.434,"i":0.274},{"s":"T6","t":0.442,"i":0.255},{"s":"T6","t":0.45,"i":0.26},{"s":"T6","t":0.458,"i":0.246},
          {"s":"T6","t":0.466,"i":0.239},{"s":"T6","t":0.474,"i":0.242},{"s":"T6","t":0.482,"i":0.224},{"s":"T6","t":0.49,"i":0.236},{"s":"T6","t":0.498,"i":0.218},
          {"s":"T6","t":0.506,"i":0.227},{"s":"T6","t":0.514,"i":0.208},{"s":"T6","t":0.522,"i":0.22},{"s":"T6","t":0.53,"i":0.215},{"s":"T6","t":0.538,"i":0.203},
          {"s":"T6","t":0.546,"i":0.219},{"s":"T6","t":0.554,"i":0.205},{"s":"T6","t":0.562,"i":0.213},{"s":"T6","t":0.57,"i":0.196},{"s":"T6","t":0.578,"i":0.209},
          {"s":"T6","t":0.586,"i":0.212},{"s":"T6","t":0.594,"i":0.199},{"s":"T6","t":0.5995,"i":0.206},{"s":"T6","t":0.6,"i":0.0},

          {"s":"T7","t":0.4,"i":0.83},{"s":"T7","t":0.4005,"i":0.251},{"s":"T7","t":0.404,"i":0.235},{"s":"T7","t":0.41,"i":0.24},{"s":"T7","t":0.418,"i":0.216},
          {"s":"T7","t":0.426,"i":0.217},{"s":"T7","t":0.434,"i":0.199},{"s":"T7","t":0.442,"i":0.19},{"s":"T7","t":0.45,"i":0.19},{"s":"T7","t":0.458,"i":0.169},
          {"s":"T7","t":0.466,"i":0.179},{"s":"T7","t":0.474,"i":0.16},{"s":"T7","t":0.482,"i":0.167},{"s":"T7","t":0.49,"i":0.147},{"s":"T7","t":0.498,"i":0.157},
          {"s":"T7","t":0.506,"i":0.151},{"s":"T7","t":0.514,"i":0.139},{"s":"T7","t":0.522,"i":0.153},{"s":"T7","t":0.53,"i":0.139},{"s":"T7","t":0.538,"i":0.146},
          {"s":"T7","t":0.546,"i":0.129},{"s":"T7","t":0.554,"i":0.142},{"s":"T7","t":0.562,"i":0.144},{"s":"T7","t":0.57,"i":0.13},{"s":"T7","t":0.578,"i":0.137},
          {"s":"T7","t":0.586,"i":0.127},{"s":"T7","t":0.594,"i":0.143},{"s":"T7","t":0.5995,"i":0.13},{"s":"T7","t":0.6,"i":0.0},

          {"s":"T8","t":0.4,"i":0.83},{"s":"T8","t":0.4005,"i":0.174},{"s":"T8","t":0.404,"i":0.177},{"s":"T8","t":0.41,"i":0.16},{"s":"T8","t":0.418,"i":0.149},
          {"s":"T8","t":0.426,"i":0.147},{"s":"T8","t":0.434,"i":0.125},{"s":"T8","t":0.442,"i":0.134},{"s":"T8","t":0.45,"i":0.113},{"s":"T8","t":0.458,"i":0.119},
          {"s":"T8","t":0.466,"i":0.098},{"s":"T8","t":0.474,"i":0.108},{"s":"T8","t":0.482,"i":0.101},{"s":"T8","t":0.49,"i":0.088},{"s":"T8","t":0.498,"i":0.102},
          {"s":"T8","t":0.506,"i":0.087},{"s":"T8","t":0.514,"i":0.094},{"s":"T8","t":0.522,"i":0.076},{"s":"T8","t":0.53,"i":0.089},{"s":"T8","t":0.538,"i":0.091},
          {"s":"T8","t":0.546,"i":0.077},{"s":"T8","t":0.554,"i":0.084},{"s":"T8","t":0.562,"i":0.073},{"s":"T8","t":0.57,"i":0.089},{"s":"T8","t":0.578,"i":0.076},
          {"s":"T8","t":0.586,"i":0.084},{"s":"T8","t":0.594,"i":0.068},{"s":"T8","t":0.5995,"i":0.08},{"s":"T8","t":0.6,"i":0.0},

          {"s":"T9","t":0.4,"i":0.83},{"s":"T9","t":0.4005,"i":0.119},{"s":"T9","t":0.404,"i":0.122},{"s":"T9","t":0.41,"i":0.101},{"s":"T9","t":0.418,"i":0.108},
          {"s":"T9","t":0.426,"i":0.086},{"s":"T9","t":0.434,"i":0.09},{"s":"T9","t":0.442,"i":0.068},{"s":"T9","t":0.45,"i":0.076},{"s":"T9","t":0.458,"i":0.069},
          {"s":"T9","t":0.466,"i":0.055},{"s":"T9","t":0.474,"i":0.068},{"s":"T9","t":0.482,"i":0.053},{"s":"T9","t":0.49,"i":0.059},{"s":"T9","t":0.498,"i":0.041},
          {"s":"T9","t":0.506,"i":0.053},{"s":"T9","t":0.514,"i":0.055},{"s":"T9","t":0.522,"i":0.04},{"s":"T9","t":0.53,"i":0.047},{"s":"T9","t":0.538,"i":0.036},
          {"s":"T9","t":0.546,"i":0.052},{"s":"T9","t":0.554,"i":0.039},{"s":"T9","t":0.562,"i":0.046},{"s":"T9","t":0.57,"i":0.03},{"s":"T9","t":0.578,"i":0.045},
          {"s":"T9","t":0.586,"i":0.034},{"s":"T9","t":0.594,"i":0.046},{"s":"T9","t":0.5995,"i":0.038},{"s":"T9","t":0.6,"i":0.0},

          {"s":"T10","t":0.4,"i":0.83},{"s":"T10","t":0.4005,"i":0.055},{"s":"T10","t":0.404,"i":0.057},{"s":"T10","t":0.41,"i":0.041},{"s":"T10","t":0.418,"i":0.051},
          {"s":"T10","t":0.426,"i":0.032},{"s":"T10","t":0.434,"i":0.031},{"s":"T10","t":0.442,"i":0.037},{"s":"T10","t":0.45,"i":0.017},{"s":"T10","t":0.458,"i":0.026},
          {"s":"T10","t":0.466,"i":0.015},{"s":"T10","t":0.474,"i":0.028},{"s":"T10","t":0.482,"i":0.013},{"s":"T10","t":0.49,"i":0.007},{"s":"T10","t":0.498,"i":0.018},
          {"s":"T10","t":0.506,"i":0.009},{"s":"T10","t":0.514,"i":0.018},{"s":"T10","t":0.522,"i":0.0},{"s":"T10","t":0.53,"i":0.011},{"s":"T10","t":0.538,"i":0.002},
          {"s":"T10","t":0.546,"i":0.017},{"s":"T10","t":0.554,"i":0.0},{"s":"T10","t":0.562,"i":0.011},{"s":"T10","t":0.57,"i":-0.003},{"s":"T10","t":0.578,"i":0.005},
          {"s":"T10","t":0.586,"i":0.005},{"s":"T10","t":0.594,"i":-0.003},{"s":"T10","t":0.5995,"i":0.011},{"s":"T10","t":0.6,"i":0.0},

          {"s":"T11","t":0.4,"i":0.83},{"s":"T11","t":0.4005,"i":0.025},{"s":"T11","t":0.404,"i":0.019},{"s":"T11","t":0.41,"i":0.019},{"s":"T11","t":0.418,"i":0.025},
          {"s":"T11","t":0.426,"i":0.009},{"s":"T11","t":0.434,"i":0.016},{"s":"T11","t":0.442,"i":0.007},{"s":"T11","t":0.45,"i":0.019},{"s":"T11","t":0.458,"i":0.007},
          {"s":"T11","t":0.466,"i":0.002},{"s":"T11","t":0.474,"i":0.011},{"s":"T11","t":0.482,"i":0.004},{"s":"T11","t":0.49,"i":0.012},{"s":"T11","t":0.498,"i":-0.003},
          {"s":"T11","t":0.506,"i":0.006},{"s":"T11","t":0.514,"i":-0.001},{"s":"T11","t":0.522,"i":0.01},{"s":"T11","t":0.53,"i":-0.003},{"s":"T11","t":0.538,"i":0.006},
          {"s":"T11","t":0.546,"i":-0.005},{"s":"T11","t":0.554,"i":0.001},{"s":"T11","t":0.562,"i":0.002},{"s":"T11","t":0.57,"i":-0.005},{"s":"T11","t":0.578,"i":0.006},
          {"s":"T11","t":0.586,"i":-0.007},{"s":"T11","t":0.594,"i":0.004},{"s":"T11","t":0.5995,"i":-0.005},{"s":"T11","t":0.6,"i":0.0},

          {"s":"T12","t":0.4,"i":0.83},{"s":"T12","t":0.4005,"i":-0.108},{"s":"T12","t":0.404,"i":-0.014},{"s":"T12","t":0.41,"i":-0.021},{"s":"T12","t":0.418,"i":-0.012},
          {"s":"T12","t":0.426,"i":-0.024},{"s":"T12","t":0.434,"i":-0.011},{"s":"T12","t":0.442,"i":-0.007},{"s":"T12","t":0.45,"i":-0.016},{"s":"T12","t":0.458,"i":-0.009},
          {"s":"T12","t":0.466,"i":-0.016},{"s":"T12","t":0.474,"i":-0.001},{"s":"T12","t":0.482,"i":-0.011},{"s":"T12","t":0.49,"i":-0.003},{"s":"T12","t":0.498,"i":-0.015},
          {"s":"T12","t":0.506,"i":-0.001},{"s":"T12","t":0.514,"i":-0.01},{"s":"T12","t":0.522,"i":0.0},{"s":"T12","t":0.53,"i":-0.005},{"s":"T12","t":0.538,"i":-0.006},
          {"s":"T12","t":0.546,"i":0.0},{"s":"T12","t":0.554,"i":-0.011},{"s":"T12","t":0.562,"i":0.003},{"s":"T12","t":0.57,"i":-0.008},{"s":"T12","t":0.578,"i":0.001},
          {"s":"T12","t":0.586,"i":-0.012},{"s":"T12","t":0.594,"i":-0.001},{"s":"T12","t":0.5995,"i":-0.003},{"s":"T12","t":0.6,"i":0.0},

          {"s":"p1","t":0.6,"i":0.0},{"s":"p1","t":0.6005,"i":-0.088},{"s":"p1","t":0.602,"i":-0.035},{"s":"p1","t":0.605,"i":-0.012},{"s":"p1","t":0.61,"i":0.004},
          {"s":"p1","t":0.615,"i":-0.006},{"s":"p1","t":0.62,"i":0.008},{"s":"p1","t":0.625,"i":-0.003},{"s":"p1","t":0.63,"i":0.006},{"s":"p1","t":0.635,"i":-0.008},
          {"s":"p1","t":0.64,"i":0.003},{"s":"p1","t":0.645,"i":0.009},{"s":"p1","t":0.65,"i":-0.005},{"s":"p1","t":0.655,"i":0.002},{"s":"p1","t":0.66,"i":-0.009},
          {"s":"p1","t":0.665,"i":0.007},{"s":"p1","t":0.67,"i":-0.002},{"s":"p1","t":0.675,"i":0.01},{"s":"p1","t":0.68,"i":-0.006},{"s":"p1","t":0.685,"i":0.004},
          {"s":"p1","t":0.69,"i":-0.007},{"s":"p1","t":0.695,"i":0.008},{"s":"p1","t":0.7,"i":0.002},

          {"s":"p2","t":0.6,"i":0.0},{"s":"p2","t":0.6005,"i":-0.05},{"s":"p2","t":0.603,"i":-0.018},{"s":"p2","t":0.607,"i":0.003},{"s":"p2","t":0.612,"i":-0.007},
          {"s":"p2","t":0.617,"i":0.006},{"s":"p2","t":0.622,"i":-0.004},{"s":"p2","t":0.627,"i":0.009},{"s":"p2","t":0.632,"i":-0.006},{"s":"p2","t":0.637,"i":0.005},
          {"s":"p2","t":0.642,"i":-0.003},{"s":"p2","t":0.647,"i":0.008},{"s":"p2","t":0.652,"i":-0.008},{"s":"p2","t":0.657,"i":0.004},{"s":"p2","t":0.662,"i":0.007},
          {"s":"p2","t":0.667,"i":-0.005},{"s":"p2","t":0.672,"i":0.003},{"s":"p2","t":0.677,"i":-0.007},{"s":"p2","t":0.682,"i":0.009},{"s":"p2","t":0.687,"i":-0.002},
          {"s":"p2","t":0.692,"i":0.006},{"s":"p2","t":0.697,"i":-0.006},{"s":"p2","t":0.7,"i":0.004}
        ]
      },
      "mark": {"type": "line", "color": "black", "strokeWidth": 2.2, "strokeJoin": "round"},
      "encoding": {
        "x": {
          "field": "t",
          "type": "quantitative",
          "scale": {"domain": [-0.0284, 0.7274], "nice": false, "zero": false},
          "axis": {"title": "t [s]", "values": [0.1, 0.35, 0.6], "tickSize": -8, "labelPadding": 28, "titlePadding": 11}
        },
        "y": {
          "field": "i",
          "type": "quantitative",
          "scale": {"domain": [-0.15, 0.9975], "nice": false, "zero": false},
          "axis": {"title": "I [nA]", "values": [0, 0.45, 0.9], "tickSize": -8, "labelPadding": 24, "titlePadding": 11}
        },
        "detail": {"field": "s", "type": "nominal"}
      }
    },
    {
      "data": {"values": [{}]},
      "mark": {"type": "text", "text": "Kv12.3\u00a0 Rat\u00a0 CHO\u00a0 25 °C", "font": "DejaVu Sans", "fontWeight": "bold", "fontSize": 22.5, "align": "left", "baseline": "alphabetic", "color": "black"},
      "encoding": {"x": {"datum": 0.0105}, "y": {"datum": 1.0}}
    },
    {
      "data": {"values": [{}]},
      "mark": {"type": "text", "text": "Deactivation", "font": "DejaVu Sans", "fontSize": 22, "align": "right", "baseline": "alphabetic", "color": "black"},
      "encoding": {"x": {"datum": 0.7105}, "y": {"datum": 1.0}}
    },
    {
      "data": {"values": [{}]},
      "mark": {"type": "text", "text": "BBP Channelpedia ID 3235 rep 1", "font": "DejaVu Sans", "fontSize": 22, "angle": 270, "align": "center", "baseline": "middle", "color": "black"},
      "encoding": {"x": {"datum": 0.7235}, "y": {"datum": 0.42}}
    }
  ]
}
